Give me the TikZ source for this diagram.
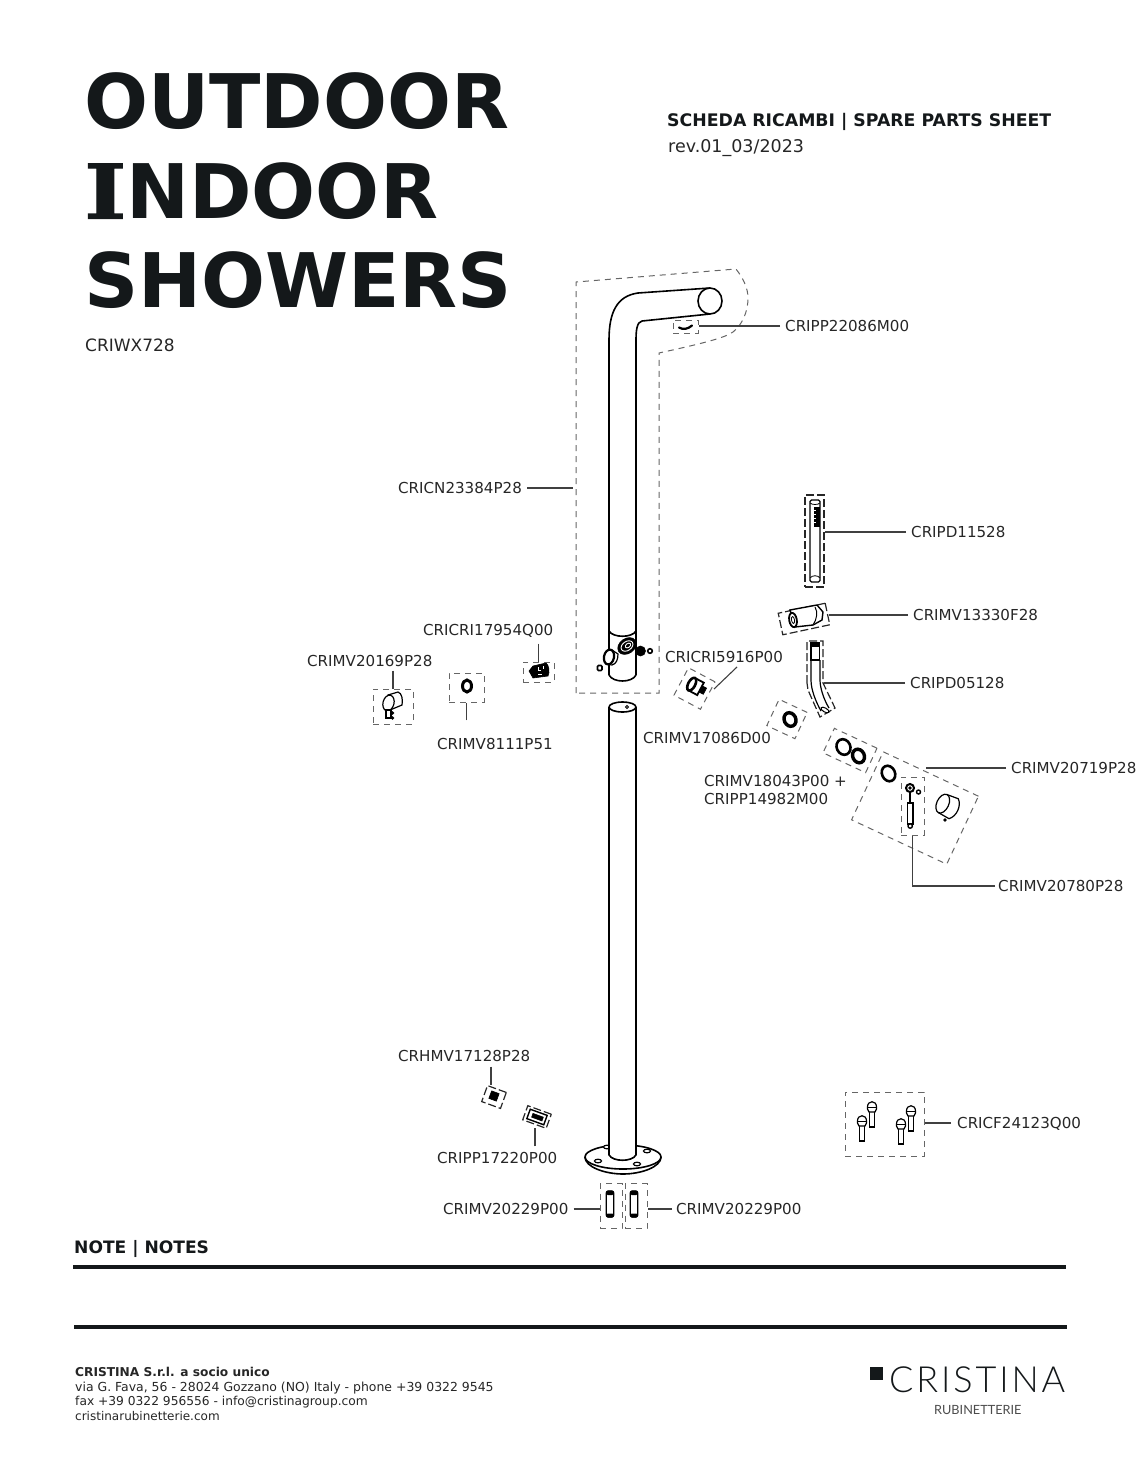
\documentclass[tikz,border=0pt]{standalone}
\usepackage{fontspec}
\setmainfont{DejaVu Sans}
\newfontfamily\logofont[LetterSpace=8]{Lato Light}
\newfontfamily\logosubfont{Lato}
\newfontfamily\slabfont[BoldFeatures={FakeBold=1.5,FakeStretch=1.2}]{DejaVu Serif}
\definecolor{inkblack}{HTML}{14181A}
\definecolor{dashgray}{HTML}{666666}
\tikzset{
  titleline/.style={anchor=west,inner sep=0pt,text height=55pt,text depth=0pt,font=\fontsize{75.3}{75.3}\selectfont\bfseries,color=inkblack},
  partlabel/.style={font=\fontsize{15.1}{18}\selectfont,color=black!85,anchor=west,inner sep=0pt,text height=11pt,text depth=0pt},
  twolabel/.style={font=\fontsize{15.1}{18}\selectfont,color=black!85,anchor=west,inner sep=0pt,align=left},
  leader/.style={draw=black!75,line width=1.1pt,shorten <=5pt},
  dashbox/.style={draw=dashgray,line width=1pt,dash pattern=on 6pt off 5pt,inner sep=0pt},
  blackbox/.style={draw=black!85,line width=1.2pt,dash pattern=on 8pt off 3pt,inner sep=0pt},
  pipe/.style={draw=black,line width=1.6pt,line join=round},
  part/.style={draw=black,line width=1.2pt,fill=white},
  ring/.style={draw=black,line width=2.6pt,fill=white},
  solid part/.style={fill=black,draw=black,line width=0.6pt},
  rule line/.style={draw=inkblack,line width=3.5pt}
}
\begin{document}
\begin{tikzpicture}[x=1pt,y=-1pt]
\useasboundingbox (0,0) rectangle (1148,1483);

% headings
\node[titleline] (titleone) at (84,101) {OUTDOOR};
\node[titleline] (titletwo) at (84,191) {{\slabfont\bfseries I}NDOOR};
\node[titleline] (titlethree) at (84,280) {SHOWERS};
\node[partlabel,font=\fontsize{17}{18}\selectfont,text height=12.5pt] (modelcode) at (85,345) {CRIWX728};
\node[partlabel,font=\fontsize{17.3}{18}\selectfont\bfseries,color=inkblack,text height=12.5pt] (sheettitle) at (667,120) {SCHEDA RICAMBI | SPARE PARTS SHEET};
\node[partlabel,font=\fontsize{17.5}{18}\selectfont,text height=12.5pt] (sheetrev) at (668,146) {rev.01\_03/2023};

% upper pipe and mixer body
\draw[pipe] (609,675) -- (609,340) .. controls (609,312) and (617,296) .. (638,293) -- (710,288);
\draw[pipe] (636,675) -- (636,340) .. controls (636,330) and (637,322) .. (642,321) -- (710,314);
\draw[pipe,fill=white] (710,301) ellipse [x radius=12,y radius=13];
\draw[pipe] (609,631) .. controls (613,638) and (632,638) .. (636,631);
\draw[pipe] (609,675) .. controls (613,683) and (632,683) .. (636,675);
\draw[solid part] (640.5,651) circle (5);
\draw[solid part] (627,646) ellipse [x radius=10,y radius=7.5,rotate=35];
\draw[white,line width=0.9pt] (627,646) ellipse [x radius=6.5,y radius=4.5,rotate=35];
\draw[white,line width=0.9pt] (628,645.5) ellipse [x radius=3,y radius=2,rotate=35];
\draw[part] (612,650) -- (618,654) .. controls (618,660) and (616,664) .. (612,665) -- (606,664) -- cycle;
\draw[ring,line width=2.2pt] (609,657) ellipse [x radius=5,y radius=7.5,rotate=-12];
\draw[part,line width=1.6pt] (650,651) circle (2.3);
\draw[part,line width=1.6pt,rounded corners=1pt] (597.5,665.5) rectangle (602,670.5);

% lower pipe and base plate
\draw[pipe,fill=white] (623,1157) ellipse [x radius=38,y radius=12];
\draw[pipe] (585,1157) .. controls (585,1167) and (605,1174) .. (623,1174) .. controls (641,1174) and (661,1167) .. (661,1157);
\foreach \hx/\hy in {598/1161,647/1151,637/1164,607/1147}
  \draw[part] (\hx,\hy) ellipse [x radius=3.5,y radius=1.8];
\draw[pipe,fill=white] (609,707) -- (609,1155) .. controls (613,1162) and (632,1162) .. (636,1155) -- (636,707);
\draw[pipe,fill=white] (622.5,707) ellipse [x radius=13.5,y radius=5];
\draw[part,line width=0.8pt] (627,707) circle (1.5);

% dashed outlines
\draw[dashbox] (576,693) -- (576,282) -- (736,269) .. controls (743,278) and (748,288) .. (748,298) .. controls (748,312) and (742,325) .. (733,332) .. controls (725,338) and (700,344) .. (659,353) -- (659,693) -- cycle;
\node[dashbox,minimum width=25pt,minimum height=13pt] (boxclip) at (685.5,326.5) {};
\node[dashbox,minimum width=40pt,minimum height=35pt] (boxlever) at (393,706.5) {};
\node[dashbox,minimum width=35pt,minimum height=29pt] (boxcap) at (466.5,687.5) {};
\node[dashbox,minimum width=31pt,minimum height=20pt] (boxcart) at (538.5,672) {};
\node[dashbox,minimum width=30pt,minimum height=31pt,rotate=-28] (boxvalve) at (694.5,688.5) {};
\node[blackbox,minimum width=19pt,minimum height=92pt] (boxhand) at (814.5,541) {};
\node[blackbox,minimum width=48pt,minimum height=22pt,rotate=12] (boxhook) at (804,619) {};
\draw[blackbox] (807,683) -- (807,641) -- (823,641) -- (823,683) -- (835,708) -- (820,717) -- (808,690) -- cycle;
\coordinate (hoseend) at (824,683);
\node[dashbox,minimum width=31pt,minimum height=29pt,rotate=-25] (boxwasher) at (787,719) {};
\node[dashbox,minimum width=47pt,minimum height=27pt,rotate=-25] (boxrings) at (850,750.5) {};
\node[dashbox,minimum width=105pt,minimum height=75pt,rotate=-25] (boxmixer) at (915,808) {};
\coordinate (mixerend) at (926,768);
\node[dashbox,minimum width=23pt,minimum height=58pt] (boxstem) at (912.5,806) {};
\node[blackbox,minimum width=20pt,minimum height=17pt,rotate=-20] (boxgrub) at (494,1097) {};
\coordinate (grubend) at (491,1085);
\node[blackbox,minimum width=25pt,minimum height=15pt,rotate=-20] (boxplug) at (537,1117) {};
\coordinate (plugend) at (535,1128);
\node[dashbox,minimum width=22pt,minimum height=45pt] (boxstudl) at (611,1206) {};
\node[dashbox,minimum width=22pt,minimum height=45pt] (boxstudr) at (636,1206) {};
\node[dashbox,minimum width=79pt,minimum height=64pt] (boxbolts) at (884.5,1124) {};

% small parts
\draw[line width=2.2pt,line cap=round] (679,327.5) .. controls (683,330) and (688,329) .. (692,325.5);
\draw[part] (388,695) -- (398,692) .. controls (402,693) and (403,700) .. (402,705) -- (390,710) -- cycle;
\draw[part] (388.5,703) ellipse [x radius=5.5,y radius=8,rotate=-15];
\draw[part] (386,710) rectangle (391,718);
\fill (392.5,713) circle (1.8) (392.5,718) circle (1.8);
\draw[ring,line width=3pt] (467,686) ellipse [x radius=4.5,y radius=6];
\draw[solid part] (529,671) -- (533,666) -- (546,663) .. controls (549,665) and (550,672) .. (548,676) -- (533,678) -- cycle;
\draw[white,line width=1pt] (538,667) -- (538,670) -- (541,670) (543,666) -- (543,669) (538,674) -- (542,674);
\begin{scope}[shift={(697,687)},rotate=-28]
  \draw[part,line width=1.8pt] (-6,-7) -- (4,-7) -- (4,7) -- (-6,7);
  \draw[ring] (-6,0) ellipse [x radius=3.5,y radius=7];
  \draw[solid part] (4,-3.5) rectangle (9,3.5);
\end{scope}
\draw[part,rounded corners=1.5pt] (810,500) rectangle (820,582);
\draw[part,line width=0.8pt] (810,503) .. controls (812,505) and (818,505) .. (820,503);
\draw[part,line width=0.8pt] (810,578) .. controls (812,575) and (818,575) .. (820,578);
\fill[black] (814,507) rectangle (820,527);
\foreach \hy in {510,514,518,522}
  \draw[white,line width=0.4pt] (814,\hy) -- (815.5,\hy);
\draw[part,line width=1.4pt] (790,610) -- (817,605) -- (823,612) -- (822,620) -- (813,625) -- (795,627) -- cycle;
\draw[ring,line width=1.8pt] (793,620) ellipse [x radius=3.8,y radius=7.2,rotate=10];
\draw[part,line width=0.8pt] (793,620) ellipse [x radius=1.5,y radius=3.5,rotate=10];
\draw[part,line width=1pt] (815,607) .. controls (818,612) and (817,619) .. (813,625);
\draw[part,fill=black] (811,642.5) rectangle (819.5,646);
\draw[part] (811,646) rectangle (819.5,660);
\draw[pipe,line width=1.2pt] (811,660) -- (811,680) .. controls (811,690) and (816,702) .. (821,711);
\draw[pipe,line width=1.2pt] (820,660) -- (820,680) .. controls (820,688) and (824,700) .. (829,708);
\draw[part,line width=1pt] (825,710) ellipse [x radius=4.5,y radius=2,rotate=-30];
\draw[ring,line width=3.4pt] (790,719.5) ellipse [x radius=5.8,y radius=7,rotate=25];
\draw[ring,line width=2.6pt] (843.5,747) ellipse [x radius=6.8,y radius=8,rotate=25];
\draw[ring,line width=3.4pt] (858.5,756) ellipse [x radius=5.8,y radius=7,rotate=25];
\draw[ring,line width=2.6pt] (888.5,773.5) ellipse [x radius=6.5,y radius=8,rotate=25];
\draw[part,line width=2pt] (910,788) circle (4);
\fill (910,788) circle (1.8);
\draw[part,line width=1.4pt] (918.5,792) circle (2);
\draw[line width=1.6pt] (910,793) -- (910,802);
\draw[part,line width=1.4pt] (907.5,803) rectangle (912.8,824);
\draw[part,line width=1.4pt] (910.2,826) circle (2.2);
\begin{scope}[shift={(950,807)},rotate=-25]
  \draw[part] (-8,-10) -- (4,-11) .. controls (10,-6) and (10,6) .. (4,11) -- (-8,10);
  \draw[part] (-8,0) ellipse [x radius=6,y radius=10];
\end{scope}
\fill (945,820) circle (1.8);
\draw[solid part,rotate around={-20:(494,1096)}] (490,1092) rectangle (498,1100);
\begin{scope}[shift={(537,1117)},rotate=-20]
  \draw[part,line width=1.4pt] (-9,-5) rectangle (9,5);
  \draw[solid part] (-5,-2) rectangle (6,2);
\end{scope}
\foreach \sx in {610,634} {
  \draw[part,rounded corners=2pt] (\sx-3.8,1191) rectangle (\sx+3.8,1217);
  \fill[rounded corners=1.5pt] (\sx-3.8,1190.5) rectangle (\sx+3.8,1195);
  \fill[rounded corners=1.5pt] (\sx-3.8,1213.5) rectangle (\sx+3.8,1217.5);
}
\foreach \bx/\by in {872/1108,862/1122,901/1125,911/1112} {
  \draw[part] (\bx-2.8,\by+3) rectangle (\bx+2.8,\by+19);
  \draw[part] (\bx-4.5,\by+1) -- (\bx-4.5,\by-1) .. controls (\bx-4.5,\by-8) and (\bx+4.5,\by-8) .. (\bx+4.5,\by-1) -- (\bx+4.5,\by+1) -- (\bx+3,\by+4) -- (\bx-3,\by+4) -- cycle;
  \draw[line width=1pt] (\bx-4.5,\by-1) -- (\bx+4.5,\by-1);
}

% labels and leaders
\node[partlabel] (cripp22086) at (785,326) {CRIPP22086M00};
\node[partlabel] (cricn23384) at (398,488) {CRICN23384P28};
\coordinate (bigend) at (573,488);
\node[partlabel] (cripd11528) at (911,532) {CRIPD11528};
\node[partlabel] (crimv13330) at (913,615) {CRIMV13330F28};
\coordinate (hookend) at (829,615);
\node[partlabel] (cripd05128) at (910,683) {CRIPD05128};
\node[partlabel] (cricri17954) at (423,630) {CRICRI17954Q00};
\node[partlabel] (crimv20169) at (307,661) {CRIMV20169P28};
\node[partlabel] (crimv8111) at (437,744) {CRIMV8111P51};
\node[partlabel] (cricri5916) at (665,657) {CRICRI5916P00};
\coordinate (valvestart) at (737,667);
\coordinate (valveend) at (714,689);
\node[partlabel] (crimv17086) at (643,738) {CRIMV17086D00};
\node[partlabel] (crimv20719) at (1011,768) {CRIMV20719P28};
\node[twolabel] (crimv18043) at (704,790) {CRIMV18043P00 +\\CRIPP14982M00};
\node[partlabel] (crimv20780) at (998,886) {CRIMV20780P28};
\node[partlabel] (crhmv17128) at (398,1056) {CRHMV17128P28};
\node[partlabel] (cripp17220) at (437,1158) {CRIPP17220P00};
\node[partlabel] (crimv20229a) at (443,1209) {CRIMV20229P00};
\node[partlabel] (crimv20229b) at (676,1209) {CRIMV20229P00};
\node[partlabel] (cricf24123) at (957,1123) {CRICF24123Q00};

\draw[leader] (cripp22086.west) -- (boxclip.east |- cripp22086.west);
\draw[leader] (cricn23384.east) -- (bigend);
\draw[leader] (cripd11528.west) -- (boxhand.east |- cripd11528.west);
\draw[leader] (crimv13330.west) -- (hookend);
\draw[leader] (cripd05128.west) -- (hoseend);
\draw[leader,shorten <=8pt] (cricri17954.south -| boxcart.north) -- (boxcart.north);
\draw[leader,shorten <=4pt] (crimv20169.south -| boxlever.north) -- (boxlever.north);
\draw[leader,shorten <=18pt] (crimv8111.north -| boxcap.south) -- (boxcap.south);
\draw[leader,shorten <=0pt] (valvestart) -- (valveend);
\draw[leader] (crimv20719.west) -- (mixerend);
\draw[leader,shorten <=3pt] (crimv20780.west) -| (boxstem.south);
\draw[leader] (crhmv17128.south -| grubend) -- (grubend);
\draw[leader,shorten <=6pt] (cripp17220.north -| plugend) -- (plugend);
\draw[leader] (crimv20229a.east) -- (boxstudl.west |- crimv20229a.east);
\draw[leader,shorten <=4pt] (crimv20229b.west) -- (boxstudr.east |- crimv20229b.west);
\draw[leader,shorten <=6pt] (cricf24123.west) -- (boxbolts.east |- cricf24123.west);

% notes and footer
\node[partlabel,font=\fontsize{17.1}{18}\selectfont\bfseries,color=inkblack,text height=12.5pt] (notetitle) at (74,1247) {NOTE | NOTES};
\draw[rule line] (73,1267) -- (1066,1267);
\draw[rule line] (74,1327) -- (1067,1327);
\node[anchor=north west,inner sep=0pt,align=left,font=\fontsize{12.45}{14.7}\selectfont,color=black!85] (address) at (75,1367) {{\bfseries\fontsize{12.2}{14.7}\selectfont CRISTINA S.r.l. a socio unico}\\via G. Fava, 56 - 28024 Gozzano (NO) Italy - phone +39 0322 9545\\{\fontsize{12.25}{14.7}\selectfont fax +39 0322 956556 - info@cristinagroup.com}\\{\fontsize{12}{14.7}\selectfont cristinarubinetterie.com}};
\fill[inkblack] (870,1367) rectangle (883,1380);
\node[anchor=west,inner sep=0pt,font=\fontsize{36}{36}\selectfont\logofont,color=inkblack] (logoname) at (889,1380) {CRISTINA};
\node[anchor=west,inner sep=0pt,font=\fontsize{12.7}{12}\selectfont\logosubfont,color=black!70] (logosub) at (934,1410) {RUBINETTERIE};
\end{tikzpicture}
\end{document}
